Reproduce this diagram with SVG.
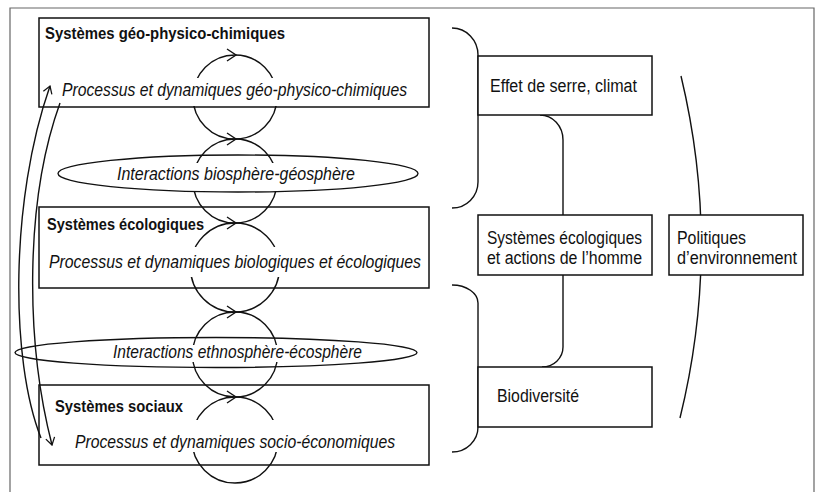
<svg xmlns="http://www.w3.org/2000/svg" width="819" height="492" viewBox="0 0 819 492">
<style>
.box{fill:none;stroke:#111;stroke-width:1.5}
.wbox{fill:#fff;stroke:#111;stroke-width:1.5}
.ln{fill:none;stroke:#111;stroke-width:1.4}
.frame{fill:none;stroke:#666;stroke-width:1.2}
.b{font-family:"Liberation Sans",Arial,sans-serif;font-weight:bold;font-size:17px;fill:#111}
.i{font-family:"Liberation Sans",Arial,sans-serif;font-style:italic;font-size:18px;fill:#111}
.r{font-family:"Liberation Sans",Arial,sans-serif;font-size:18px;fill:#111}
</style>
<defs>
<marker id="chev" viewBox="0 0 10 12" refX="9" refY="6" markerWidth="9" markerHeight="11" markerUnits="userSpaceOnUse" orient="auto">
<path d="M1,1 L9,6 L1,11" fill="none" stroke="#111" stroke-width="1.4"/>
</marker>
<mask id="gaps" maskUnits="userSpaceOnUse" x="0" y="0" width="819" height="492">
<rect x="0" y="0" width="819" height="492" fill="#fff"/>
<rect x="180" y="78" width="115" height="28" fill="#000"/>
<rect x="180" y="163" width="115" height="28" fill="#000"/>
<rect x="180" y="247" width="115" height="30" fill="#000"/>
<rect x="180" y="345" width="115" height="17" fill="#000"/>
<rect x="180" y="420" width="115" height="32" fill="#000"/>
</mask>
</defs>
<rect width="819" height="492" fill="#fff"/>
<path class="frame" d="M10,492 L10,8 L814,8 L814,492"/>

<g id="connectors">
<g mask="url(#gaps)">
<circle class="ln" cx="235" cy="97" r="42"/>
<circle class="ln" cx="235" cy="181" r="42"/>
<circle class="ln" cx="235" cy="267.5" r="44.5"/>
<circle class="ln" cx="235" cy="354.5" r="42.5"/>
<circle class="ln" cx="235" cy="440" r="43"/>
</g>
<path class="ln" d="M227,49 L236,55 L227,61"/>
<path class="ln" d="M227,133 L236,139 L227,145"/>
<path class="ln" d="M227,217 L236,223 L227,229"/>
<path class="ln" d="M227,306 L236,312 L227,318"/>
<path class="ln" d="M227,391 L236,397 L227,403"/>
<path class="ln" d="M41,438 C10,360 10,200 50,86" marker-end="url(#chev)"/>
<path class="ln" d="M60,103 C25,200 25,340 52,445" marker-end="url(#chev)"/>
<path class="ln" d="M452,28 A26,27 0 0 1 478,55 L478,182 A26,26 0 0 1 452,208"/>
<path class="ln" d="M452,285 A26,18 0 0 1 478,303 L478,427 A26,25 0 0 1 452,452"/>
<path class="ln" d="M540,115 A23,25 0 0 1 563,140 L563,215"/>
<path class="ln" d="M563,275 L563,347 A21,20 0 0 1 542,367"/>
<path class="ln" d="M681,76 Q722,247 680,418"/>
</g>

<g id="geo">
<rect class="box" x="39" y="18" width="390" height="89"/>
<text class="b" x="45" y="39" textLength="240" lengthAdjust="spacingAndGlyphs">Systèmes géo-physico-chimiques</text>
<text class="i" x="62" y="96" textLength="345" lengthAdjust="spacingAndGlyphs">Processus et dynamiques géo-physico-chimiques</text>
</g>
<g id="bio-geo">
<ellipse class="ln" cx="238" cy="173.5" rx="180" ry="18.5"/>
<text class="i" x="117" y="180" textLength="238" lengthAdjust="spacingAndGlyphs">Interactions biosphère-géosphère</text>
</g>
<g id="eco">
<rect class="box" x="39" y="207" width="390" height="81"/>
<text class="b" x="47" y="230" textLength="157" lengthAdjust="spacingAndGlyphs">Systèmes écologiques</text>
<text class="i" x="49" y="268" textLength="372" lengthAdjust="spacingAndGlyphs">Processus et dynamiques biologiques et écologiques</text>
</g>
<g id="ethno-eco">
<ellipse class="ln" cx="216" cy="352.5" rx="201" ry="15"/>
<text class="i" x="113" y="358" textLength="249" lengthAdjust="spacingAndGlyphs">Interactions ethnosphère-écosphère</text>
</g>
<g id="soc">
<rect class="box" x="39" y="385" width="390" height="80"/>
<text class="b" x="55" y="412" textLength="128" lengthAdjust="spacingAndGlyphs">Systèmes sociaux</text>
<text class="i" x="75" y="448" textLength="320" lengthAdjust="spacingAndGlyphs">Processus et dynamiques socio-économiques</text>
</g>

<g id="effet">
<rect class="wbox" x="478" y="56" width="174" height="59"/>
<text class="r" x="490" y="92" textLength="147" lengthAdjust="spacingAndGlyphs">Effet de serre, climat</text>
</g>
<g id="sys-eco-actions">
<rect class="wbox" x="478" y="215" width="174" height="60"/>
<text class="r" x="487" y="244" textLength="155" lengthAdjust="spacingAndGlyphs">Systèmes écologiques</text>
<text class="r" x="487" y="264" textLength="155" lengthAdjust="spacingAndGlyphs">et actions de l’homme</text>
</g>
<g id="politiques">
<rect class="wbox" x="669" y="215" width="134" height="60"/>
<text class="r" x="677" y="244" textLength="69" lengthAdjust="spacingAndGlyphs">Politiques</text>
<text class="r" x="677" y="264" textLength="120" lengthAdjust="spacingAndGlyphs">d’environnement</text>
</g>
<g id="biodiversite">
<rect class="wbox" x="478" y="367" width="174" height="60"/>
<text class="r" x="497" y="402" textLength="82" lengthAdjust="spacingAndGlyphs">Biodiversité</text>
</g>
</svg>
